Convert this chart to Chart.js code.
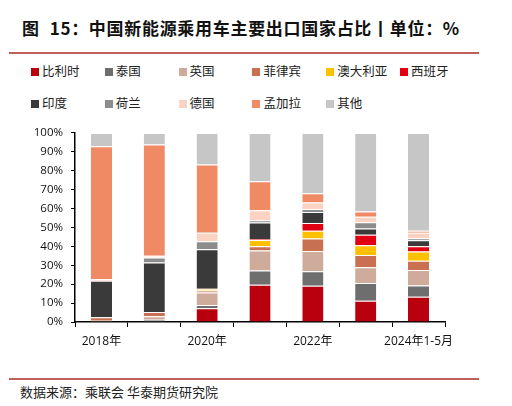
<!DOCTYPE html>
<html>
<head>
<meta charset="utf-8">
<script src="https://cdn.jsdelivr.net/npm/chart.js@4"></script>
<style>
    html, body { margin: 0; padding: 0; background: #fff; }
    body { width: 512px; height: 406px; position: relative; overflow: hidden; font-family: "Noto Sans CJK SC", sans-serif; }
    .title { position: absolute; left: 22px; top: 15px; font-size: 17px; font-weight: bold; color: #111; white-space: nowrap; letter-spacing: 0.7px; }
    .title .gap { display: inline-block; width: 10px; }
    .rule { position: absolute; left: 9px; width: 470px; height: 2px; background: #c0605c; }
    .legend { position: absolute; left: 31px; top: 62px; width: 470px; }
    .legend .item { position: absolute; font-size: 12.5px; color: #222; white-space: nowrap; line-height: 18px; }
    .legend .sw { display: inline-block; width: 8px; height: 8px; margin-right: 3px; vertical-align: 0px; }
    .source { position: absolute; left: 20px; top: 382px; font-size: 13px; color: #222; white-space: nowrap; }
    #chart-wrap { position: absolute; left: 0; top: 118px; width: 512px; height: 242px; }
</style>
</head>
<body>
<div class="title">图<span class="gap"></span>15：中国新能源乘用车主要出口国家占比丨单位：%</div>
<div class="rule" style="top:52px"></div>
<div class="legend" id="legend"></div>
<div id="chart-wrap"><canvas id="share-chart"></canvas></div>
<div class="rule" style="top:378px"></div>
<div class="source">数据来源：乘联会 华泰期货研究院</div>

<script>
const categories = ['2018年', '2019年', '2020年', '2021年', '2022年', '2023年', '2024年1-5月'];

const belgium     = [0, 0, 7.3, 19.7, 19.2, 11.3, 13.4];
const thailand    = [0, 1.2, 1.7, 7.5, 7.6, 9.3, 5.9];
const uk          = [0.6, 1.8, 6.6, 10.6, 10.7, 8.3, 8.2];
const philippines = [1.9, 2.3, 1.0, 2.3, 6.6, 6.5, 4.9];
const australia   = [0, 0, 0.9, 3.3, 4.2, 5.2, 4.9];
const spain       = [0, 0, 0.1, 0.5, 4.1, 5.6, 2.8];
const india       = [19.3, 26.2, 20.9, 8.7, 5.8, 3.3, 3.1];
const netherlands = [0, 2.6, 4.2, 1.2, 1.6, 3.3, 1.1];
const germany     = [0.8, 0.9, 4.5, 5.3, 3.4, 2.8, 2.9];
const bangladesh  = [70.3, 58.9, 36.1, 15.3, 4.9, 2.9, 1.1];
const others      = [7.1, 6.1, 16.7, 25.6, 31.9, 41.5, 51.7];

const seriesNames = ['比利时', '泰国', '英国', '菲律宾', '澳大利亚', '西班牙', '印度', '荷兰', '德国', '孟加拉', '其他'];
const seriesData = [belgium, thailand, uk, philippines, australia, spain, india, netherlands, germany, bangladesh, others];
const seriesColors = ['#b8000e', '#6e6e6e', '#cfab9c', '#c87050', '#ffc000', '#e00012', '#3a3a3a', '#8c8c8c', '#fbd3c3', '#f08a64', '#c6c6c6'];

// legend, fixed columns like the original
const legendEl = document.getElementById('legend');
seriesNames.forEach((name, i) => {
    const col = i % 6;
    const row = Math.floor(i / 6);
    const item = document.createElement('div');
    item.className = 'item';
    item.style.left = (col * 73.8) + 'px';
    item.style.top = (row * 32) + 'px';
    item.innerHTML = `<span class="sw" style="background:${seriesColors[i]}"></span>${name}`;
    legendEl.appendChild(item);
});

const datasets = seriesNames.map((name, i) => ({
    label: name,
    data: seriesData[i],
    backgroundColor: seriesColors[i],
    borderColor: 'rgba(255,255,255,0.75)',
    borderWidth: { top: 1, bottom: 0, left: 0, right: 0 },
    borderSkipped: false,
    barPercentage: 0.8,
    categoryPercentage: 0.5
}));

new Chart(document.getElementById('share-chart'), {
    type: 'bar',
    data: { labels: categories, datasets: datasets },
    options: {
        responsive: true,
        maintainAspectRatio: false,
        animation: false,
        layout: { padding: { top: 11, right: 67, left: 0, bottom: 0 } },
        plugins: { legend: { display: false }, tooltip: { enabled: false } },
        scales: {
            x: {
                stacked: true,
                grid: { display: true, drawOnChartArea: false, offset: true, color: '#000', tickLength: 5, tickColor: '#000' },
                border: { display: true, color: '#000', width: 1.5 },
                ticks: {
                    autoSkip: false,
                    maxRotation: 0,
                    padding: 7,
                    color: '#111',
                    font: { family: '"Open Sans", "Noto Sans CJK SC", sans-serif', size: 12 },
                    callback: function(value, index) {
                        return index % 2 === 0 ? categories[index] : '';
                    }
                },
                afterFit: function(scale) { scale.height = 38; }
            },
            y: {
                stacked: true,
                min: 0,
                max: 100,
                grid: { display: true, drawOnChartArea: false, color: '#000', tickLength: 4, tickColor: '#000' },
                border: { display: true, color: '#000', width: 1.5 },
                ticks: {
                    stepSize: 10,
                    padding: 8,
                    color: '#111',
                    font: { family: '"Open Sans", sans-serif', size: 11.5 },
                    callback: function(value) { return value + '%'; }
                },
                afterFit: function(scale) { scale.width = 75; }
            }
        }
    }
});
</script>
</body>
</html>
